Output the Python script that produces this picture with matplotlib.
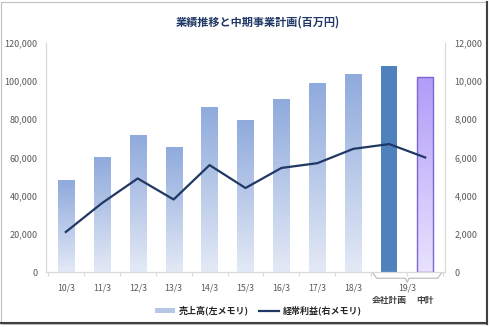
import numpy as np
import matplotlib.pyplot as plt
from matplotlib.patches import Rectangle
from matplotlib.lines import Line2D
from matplotlib.colors import LinearSegmentedColormap

plt.rcParams['font.family'] = ['Noto Sans CJK JP', 'DejaVu Sans']

# データ
periods = ['10/3', '11/3', '12/3', '13/3', '14/3', '15/3', '16/3', '17/3', '18/3', '19/3', '19/3']
sales = [48000, 60000, 71500, 65500, 86500, 79800, 90700, 99200, 103800, 108000, 102000]
profit = [2100, 3600, 4900, 3800, 5600, 4400, 5450, 5700, 6450, 6700, 6000]
plan_labels = ['会社計画', '中計']

navy = '#1F3864'
tick_color = '#595959'

fig = plt.figure(figsize=(4.9, 3.27), dpi=100)
ax = fig.add_axes([0.094, 0.168, 0.814, 0.701])
ax2 = ax.twinx()

x = np.arange(len(periods))
bars = ax.bar(x, sales, width=0.45, color='none', edgecolor='none', zorder=2)

# グラデーション塗り
blue_cmap = LinearSegmentedColormap.from_list('b', ['#E3E9F6', '#8FAADC'])
purple_cmap = LinearSegmentedColormap.from_list('p', ['#E8E2FF', '#B29CF8'])
grad = np.linspace(0, 1, 100).reshape(-1, 1)
for i, b in enumerate(bars):
    x0, w, h = b.get_x(), b.get_width(), b.get_height()
    if i == 9:
        b.set_facecolor('#4F81BD')
        continue
    cmap = purple_cmap if i == 10 else blue_cmap
    im = ax.imshow(grad, extent=[x0, x0 + w, 0, h], origin='lower', aspect='auto',
                   cmap=cmap, zorder=2)
    im.set_clip_path(b)
    if i == 10:
        b.set_edgecolor('#7A68D0')
        b.set_linewidth(1.0)
        b.set_zorder(3)

ax2.plot(x, profit, color=navy, lw=1.6, zorder=4)

ax.set_xlim(-0.55, 10.55)
ax.set_ylim(0, 120000)
ax2.set_ylim(0, 12000)
ax.set_yticks(np.arange(0, 120001, 20000))
ax2.set_yticks(np.arange(0, 12001, 2000))
ax.yaxis.set_major_formatter(plt.FuncFormatter(lambda v, p: f'{int(v):,}'))
ax2.yaxis.set_major_formatter(plt.FuncFormatter(lambda v, p: f'{int(v):,}'))
ax.tick_params(axis='y', length=0, labelsize=6.5, labelcolor=tick_color, pad=6)
ax2.tick_params(axis='y', length=0, labelsize=6.5, labelcolor=tick_color, pad=7)
for a in (ax, ax2):
    for s in a.spines.values():
        s.set_color('#D9D9D9')
    a.spines['top'].set_visible(False)
ax.set_zorder(1)
ax2.set_zorder(2)
ax.patch.set_visible(False)

# x軸ラベル
ax.set_xticks(np.arange(-0.5, 11, 1))
ax.set_xticklabels([])
ax.tick_params(axis='x', length=3, color='#D9D9D9')
for i in range(9):
    ax.text(x[i], -0.07, periods[i], transform=ax.get_xaxis_transform(),
            ha='center', va='center', fontsize=6.3, color=tick_color)
ax.text(9.5, -0.068, periods[9], transform=ax.get_xaxis_transform(),
        ha='center', va='center', fontsize=6.3, color=tick_color)
for i, lab in zip([9, 10], plan_labels):
    ax.text(x[i], -0.123, lab, transform=ax.get_xaxis_transform(),
            ha='center', va='center', fontsize=6.3, color='#404040', fontweight='bold')

# 19/3 のかっこ
bx = [8.55, 8.65, 9.45, 9.5, 9.55, 10.35, 10.45]
by = [-0.005, -0.027, -0.027, -0.045, -0.027, -0.027, -0.005]
ax.plot(bx, by, transform=ax.get_xaxis_transform(), color='#BFBFBF', lw=0.9, clip_on=False)

fig.text(0.527, 0.933, '業績推移と中期事業計画(百万円)', ha='center', va='center',
         fontsize=8, fontweight='bold', color=navy)

handles = [Rectangle((0, 0), 1, 1, facecolor='#B4C7E7', edgecolor='none'),
           Line2D([], [], color=navy, lw=1.6)]
fig.legend(handles, ['売上高(左メモリ)', '経常利益(右メモリ)'], loc='center',
           bbox_to_anchor=(0.527, 0.05), ncol=2, frameon=False, fontsize=6.5,
           handlelength=2.2, handleheight=0.5, columnspacing=1.2, handletextpad=0.4,
           labelcolor='#262626', prop={'weight': 'bold', 'size': 6.5})

# 枠線
fig.add_artist(Rectangle((0.002, 0.01), 0.99, 0.985, transform=fig.transFigure,
                         fill=False, edgecolor='#BFBFBF', lw=0.8))
fig.add_artist(Line2D([0.994, 0.994], [0.01, 0.995], transform=fig.transFigure, color='#404040', lw=1.5))
fig.add_artist(Line2D([0.002, 0.994], [0.012, 0.012], transform=fig.transFigure, color='#404040', lw=1.5))

fig.savefig('out.png', dpi=100)
